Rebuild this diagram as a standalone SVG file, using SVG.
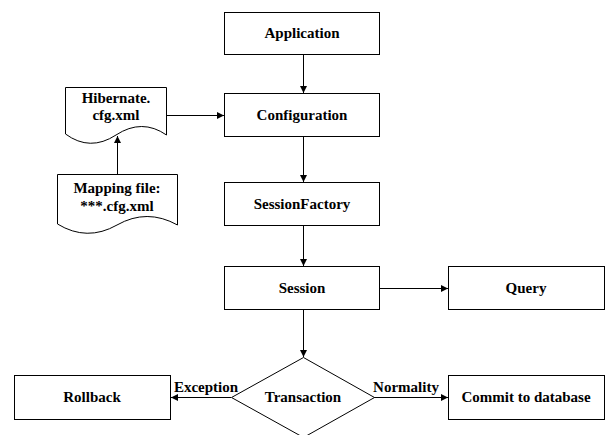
<svg xmlns="http://www.w3.org/2000/svg" width="606" height="435" viewBox="0 0 606 435">
<style>
.box{fill:#fff;stroke:#000;stroke-width:1}
.lbl{font-family:'Liberation Serif','Times New Roman',Times,'DejaVu Serif',serif;font-weight:700;font-size:15px;fill:#000;text-anchor:middle}
.cn{fill:none;stroke:#000;stroke-width:1;marker-end:url(#ah)}
</style>
<defs>
<marker id="ah" viewBox="0 0 10 10" refX="10" refY="5" markerWidth="8" markerHeight="7" markerUnits="userSpaceOnUse" orient="auto">
<path d="M0,0 L10,5 L0,10 z" fill="#000"/>
</marker>
</defs>
<rect width="606" height="435" fill="#fff"/>
<g id="connectors">
<line class="cn" x1="303.5" y1="54" x2="303.5" y2="93"/>
<line class="cn" x1="303.5" y1="137" x2="303.5" y2="182"/>
<line class="cn" x1="303.5" y1="226" x2="303.5" y2="266"/>
<line class="cn" x1="303.5" y1="309" x2="303.5" y2="357"/>
<line class="cn" x1="166" y1="115.5" x2="224" y2="115.5"/>
<line class="cn" x1="117.5" y1="174" x2="117.5" y2="136"/>
<line class="cn" x1="380" y1="288.5" x2="448" y2="288.5"/>
<line class="cn" x1="231" y1="397.5" x2="171" y2="397.5"/>
<line class="cn" x1="374" y1="397.5" x2="448" y2="397.5"/>
<text class="lbl" x="206" y="392" font-family="Liberation Serif, serif">Exception</text>
<text class="lbl" x="406" y="392" font-family="Liberation Serif, serif">Normality</text>
</g>
<g id="application">
<rect class="box" x="224.5" y="12.5" width="155" height="42"/>
<text class="lbl" x="302" y="38" font-family="Liberation Serif, serif">Application</text>
</g>
<g id="configuration">
<rect class="box" x="224.5" y="93.5" width="155" height="43"/>
<text class="lbl" x="302" y="120" font-family="Liberation Serif, serif">Configuration</text>
</g>
<g id="hibernate-cfg">
<path class="box" d="M65.5,134 L65.5,87.5 L166.5,87.5 L166.5,135 Q142,118 116,135 Q90,152 65.5,134 Z"/>
<text class="lbl" x="116" y="103" font-family="Liberation Serif, serif">Hibernate.</text>
<text class="lbl" x="116" y="120" font-family="Liberation Serif, serif">cfg.xml</text>
</g>
<g id="mapping-file">
<path class="box" d="M57.5,224 L57.5,174.5 L177.5,174.5 L177.5,225 Q147,208 117,225 Q87,242 57.5,224 Z"/>
<text class="lbl" x="117" y="193" font-family="Liberation Serif, serif">Mapping file:</text>
<text class="lbl" x="117" y="211" font-family="Liberation Serif, serif">***.cfg.xml</text>
</g>
<g id="sessionfactory">
<rect class="box" x="224.5" y="182.5" width="155" height="43"/>
<text class="lbl" x="302" y="209" font-family="Liberation Serif, serif">SessionFactory</text>
</g>
<g id="session">
<rect class="box" x="224.5" y="266.5" width="155" height="43"/>
<text class="lbl" x="302" y="293" font-family="Liberation Serif, serif">Session</text>
</g>
<g id="query">
<rect class="box" x="448.5" y="266.5" width="156" height="43"/>
<text class="lbl" x="526" y="293" font-family="Liberation Serif, serif">Query</text>
</g>
<g id="transaction">
<path class="box" d="M303.5,357.5 L374.5,397.5 L303.5,437.5 L231.5,397.5 Z"/>
<text class="lbl" x="303" y="402" font-family="Liberation Serif, serif">Transaction</text>
</g>
<g id="rollback">
<rect class="box" x="14.5" y="375.5" width="156" height="44"/>
<text class="lbl" x="92" y="402" font-family="Liberation Serif, serif">Rollback</text>
</g>
<g id="commit">
<rect class="box" x="448.5" y="375.5" width="156" height="44"/>
<text class="lbl" x="526" y="402" font-family="Liberation Serif, serif">Commit to database</text>
</g>
</svg>
